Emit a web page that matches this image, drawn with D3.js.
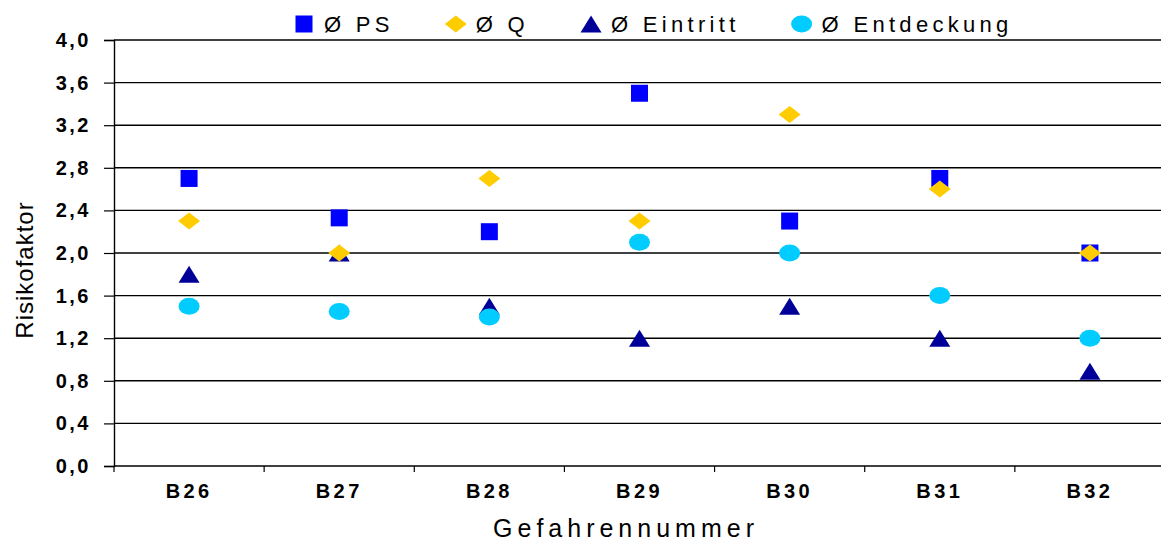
<!DOCTYPE html>
<html>
<head>
<meta charset="utf-8">
<script src="https://cdn.jsdelivr.net/npm/d3@7"></script>
<style>
  body { margin: 0; background: #fff; }
  svg text { font-family: "Liberation Sans", Arial, sans-serif; fill: #000; }
</style>
</head>
<body>
<div id="chart"></div>
<script>
// data
const categories = ["B26", "B27", "B28", "B29", "B30", "B31", "B32"];
const psValues        = [2.7, 2.33, 2.2, 3.5, 2.3, 2.7, 2.0];
const qValues         = [2.3, 2.0, 2.7, 2.3, 3.3, 2.6, 2.0];
const eintrittValues  = [1.8, 2.0, 1.5, 1.2, 1.5, 1.2, 0.89];
const entdeckungValues = [1.5, 1.45, 1.4, 2.1, 2.0, 1.6, 1.2];
const yTicks = [0, 0.4, 0.8, 1.2, 1.6, 2.0, 2.4, 2.8, 3.2, 3.6, 4.0];

const W = 1161, H = 544;
const margin = { top: 40, right: -4, bottom: 78, left: 114 };
const width = W - margin.left - margin.right;
const height = H - margin.top - margin.bottom;

// marker shapes (bbox centred like the spreadsheet does it)
const shapes = {
  square: () => { const p = d3.path(); p.rect(-8.5, -8.5, 17, 17); return p.toString(); },
  diamond: () => { const p = d3.path(); p.moveTo(0, -8.5); p.lineTo(11, 0); p.lineTo(0, 8.5); p.lineTo(-11, 0); p.closePath(); return p.toString(); },
  triangle: () => { const p = d3.path(); p.moveTo(0, -8.5); p.lineTo(10.5, 8.5); p.lineTo(-10.5, 8.5); p.closePath(); return p.toString(); },
  circle: () => "M-10.5,0A10.5,8.5 0 1,0 10.5,0A10.5,8.5 0 1,0 -10.5,0Z"
};

const series = [
  { name: "Ø PS", values: psValues, color: "#0000FF", shape: "square" },
  { name: "Ø Q", values: qValues, color: "#FFCC00", shape: "diamond" },
  { name: "Ø Eintritt", values: eintrittValues, color: "#000099", shape: "triangle" },
  { name: "Ø Entdeckung", values: entdeckungValues, color: "#00CCFF", shape: "circle" }
];
// the yellow diamonds sit on top of the triangles
const drawOrder = [0, 2, 1, 3];

const svg = d3.select("#chart").append("svg")
    .attr("width", W)
    .attr("height", H);

const g = svg.append("g")
    .attr("transform", `translate(${margin.left},${margin.top})`);

const x = d3.scaleBand()
    .domain(categories)
    .range([0, width])
    .padding(0);

const y = d3.scaleLinear()
    .domain([0, 4])
    .range([height, 0]);

// gridlines
g.append("g")
    .selectAll("line")
    .data(yTicks)
    .enter().append("line")
      .attr("x1", 0)
      .attr("x2", width)
      .attr("y1", d => y(d))
      .attr("y2", d => y(d))
      .attr("stroke", "#000")
      .attr("stroke-width", 1.4);

// y axis
const yAxis = g.append("g")
    .call(d3.axisLeft(y)
      .tickValues(yTicks)
      .tickSize(10)
      .tickPadding(13)
      .tickFormat(d => d3.format(".1f")(d).replace(".", ",")));
yAxis.select(".domain").attr("stroke", "#000").attr("stroke-width", 1.4);
yAxis.selectAll(".tick line").attr("stroke", "#000").attr("stroke-width", 1.2);
yAxis.selectAll("text")
    .style("font-size", "20px")
    .style("font-weight", "bold")
    .style("letter-spacing", "2.5px")
    .style("font-family", "'Liberation Sans', Arial, sans-serif")
    .attr("fill", "#000");

// x axis: labels in band centres, tick marks on band edges
const xAxis = g.append("g")
    .attr("transform", `translate(0,${height})`)
    .call(d3.axisBottom(x).tickSize(0).tickPadding(18));
xAxis.select(".domain").remove();
xAxis.selectAll("text")
    .style("font-size", "20px")
    .style("font-weight", "bold")
    .style("letter-spacing", "3.4px")
    .style("font-family", "'Liberation Sans', Arial, sans-serif")
    .attr("fill", "#000");

const edges = categories.map(c => x(c)).concat([x(categories[categories.length - 1]) + x.bandwidth()]);
g.append("g")
    .selectAll("line")
    .data(edges)
    .enter().append("line")
      .attr("x1", d => d).attr("x2", d => d)
      .attr("y1", height).attr("y2", height + 6)
      .attr("stroke", "#000")
      .attr("stroke-width", 1.2);

// axis titles
svg.append("text")
    .attr("transform", `translate(33,${margin.top + height / 2 + 17}) rotate(-90)`)
    .attr("text-anchor", "middle")
    .style("font-size", "24px")
    .style("letter-spacing", "1px")
    .text("Risikofaktor");

svg.append("text")
    .attr("x", 626)
    .attr("y", 537)
    .attr("text-anchor", "middle")
    .style("font-size", "25px")
    .style("letter-spacing", "5px")
    .text("Gefahrennummer");

// markers
drawOrder.forEach(i => {
  const s = series[i];
  g.append("g")
    .selectAll("path")
    .data(s.values)
    .enter().append("path")
      .attr("d", shapes[s.shape]())
      .attr("transform", (d, j) => `translate(${x(categories[j]) + x.bandwidth() / 2},${y(d)})`)
      .attr("fill", s.color);
});

// legend
const legend = svg.append("g").attr("transform", "translate(295,24)");
let lx = 0;
series.forEach(s => {
  const item = legend.append("g").attr("transform", `translate(${lx},0)`);
  item.append("path")
      .attr("d", shapes[s.shape]())
      .attr("transform", "translate(9,0)")
      .attr("fill", s.color);
  const t = item.append("text")
      .attr("x", 29)
      .attr("y", 8)
      .style("font-size", "22px")
      .style("letter-spacing", "4.3px")
      .text(s.name);
  lx += 29 + t.node().getComputedTextLength() + 53;
});
</script>
</body>
</html>
